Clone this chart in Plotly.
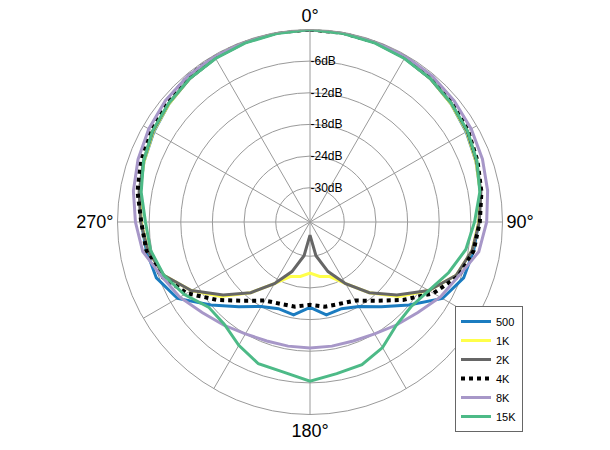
import plotly.graph_objects as go

angles = list(range(0, 361, 10))
s500 = [0,-0.1,-0.3,-0.6,-1,-1.6,-2.3,-3,-3.7,-4.5,-5,-5.5,-7.5,-12,-15.5,-18,-19,-18.6,-20.3,
        -18.6,-19,-18,-15.5,-12,-7.5,-5.5,-5,-4.5,-3.7,-3,-2.3,-1.6,-1,-0.6,-0.3,-0.1,0]
s1k = [0,-0.1,-0.3,-0.6,-1,-1.6,-2.2,-3,-3.7,-4.5,-5.3,-7,-10.5,-14.5,-19,-23,-25.5,-26,-26.8,
       -26,-25.5,-23,-19,-14.5,-10.5,-7,-5.3,-4.5,-3.7,-3,-2.2,-1.6,-1,-0.6,-0.3,-0.1,0]
s2k = [0,-0.1,-0.3,-0.6,-1,-1.5,-2.1,-2.9,-3.6,-4.4,-5.3,-7,-10.5,-15,-19,-23,-26.5,-30,-34,
       -30,-26.5,-23,-19,-15,-10.5,-7,-5.3,-4.4,-3.6,-2.9,-2.1,-1.5,-1,-0.6,-0.3,-0.1,0]
s4k = [0,-0.1,-0.2,-0.4,-0.8,-1.3,-1.9,-2.7,-3.5,-4.3,-5,-6.5,-9.5,-13.5,-17,-19.3,-20,-20.2,-20.8,
       -20.2,-20,-19.3,-17,-13.5,-9.5,-6.5,-5,-4.5,-3.3,-2.3,-1.5,-0.9,-0.5,-0.2,-0.1,0,0]
s8k = [0,0,-0.1,-0.2,-0.4,-0.8,-1.2,-1.7,-2.3,-3,-4,-6.5,-8,-9.8,-11,-12,-12.5,-12.6,-12.6,
       -12.6,-12.5,-12,-11,-9.8,-8,-6.5,-4.3,-3.4,-2.5,-1.8,-1.2,-0.7,-0.4,-0.2,-0.1,0,0]
s15k = [0,-0.2,-0.4,-0.7,-1,-1.5,-2,-2.8,-3.8,-5.3,-6.5,-8.5,-10.5,-11.5,-11,-9,-7.7,-7.3,-6.3,
        -7.6,-7.9,-9.5,-11.2,-11.4,-9,-7,-5.8,-5.3,-4,-2.9,-2,-1.5,-1,-0.7,-0.4,-0.2,0]

names = ["500","1K","2K","4K","8K","15K"]
series = [s500,s1k,s2k,s4k,s8k,s15k]
colors = ["#1b7cc0","#ffff4a","#666666","#000000","#a797c8","#4dba87"]
dashes = ["solid","solid","solid","dot","solid","solid"]
widths = [3,3,3,4,3,3]

tickvals = list(range(0,360,30))
ticktext = ["0°","","","90°","","","180°","","","270°","",""]
rvals = [-6,-12,-18,-24,-30]
rtext = ["-6dB","-12dB","-18dB","-24dB","-30dB"]

fig = go.Figure()
for n,s,c,d,w in zip(names,series,colors,dashes,widths):
    fig.add_trace(go.Scatterpolar(r=s, theta=angles, mode="lines", name=n,
                                  line=dict(color=c, width=w, dash=d)))

fig.update_layout(
    width=610, height=450, margin=dict(l=0,r=0,t=0,b=0),
    paper_bgcolor="white", font=dict(family="Liberation Sans, Arial", color="#000"),
    polar=dict(
        domain=dict(x=[109.5/610,494.5/610], y=[43.5/450,428.5/450]),
        bgcolor="white",
        angularaxis=dict(rotation=90, direction="clockwise", tickmode="array", tickvals=tickvals,
                         ticktext=ticktext, tickfont=dict(size=18), gridcolor="#9a9a9a",
                         linecolor="#9a9a9a", showline=True, ticks=""),
        radialaxis=dict(range=[-36.5,0], tickmode="array", tickvals=rvals, ticktext=rtext,
                        angle=90, tickangle=90, gridcolor="#9a9a9a", showline=False, ticks="",
                        tickfont=dict(size=12)),
    ),
    legend=dict(x=447/610, y=1-298/450, xanchor="left", yanchor="top", bgcolor="white",
                bordercolor="#666", borderwidth=1, font=dict(size=11)),
)
fig.write_html("out.html")
